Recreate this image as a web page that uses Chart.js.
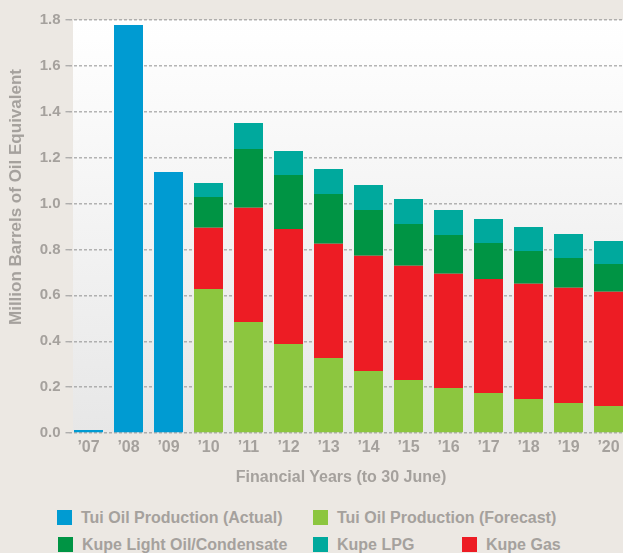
<!DOCTYPE html>
<html>
<head>
<meta charset="utf-8">
<script src="https://cdn.jsdelivr.net/npm/chart.js@4"></script>
<style>
  html, body { margin: 0; padding: 0; }
  body {
    width: 623px; height: 553px; overflow: hidden; position: relative;
    background: #ece8e3;
    font-family: "Liberation Sans", Arial, sans-serif; font-weight: bold; color: #a5a19d;
  }
  #chart { position: absolute; left: 0; top: 0; }
  .axis-title { position: absolute; white-space: nowrap; }
  #xTitle { left: 341px; top: 477px; font-size: 16px; transform: translate(-50%, -50%); }
  #yTitle { left: 16px; top: 197px; font-size: 17px; transform: translate(-50%, -50%) rotate(-90deg); }
  .legend-item { position: absolute; font-size: 16px; white-space: nowrap; line-height: 15px; }
  .legend-item .box { display: inline-block; width: 15px; height: 15px; vertical-align: top; margin-right: 9px; }
</style>
</head>
<body>
<canvas id="chart" width="640" height="480"></canvas>
<div class="axis-title" id="yTitle">Million Barrels of Oil Equivalent</div>
<div class="axis-title" id="xTitle">Financial Years (to 30 June)</div>
<div id="legend"></div>

<script>
// ─── DATI ─────────────────────────────────────────────
const years = ["’07", "’08", "’09", "’10", "’11", "’12", "’13", "’14", "’15", "’16", "’17", "’18", "’19", "’20"];
const tuiActual = [0.013, 1.778, 1.138, null, null, null, null, null, null, null, null, null, null, null];
const tuiForecast = [null, null, null, 0.628, 0.484, 0.388, 0.327, 0.270, 0.231, 0.196, 0.174, 0.148, 0.131, 0.118];
const kupeGas = [null, null, null, 0.267, 0.498, 0.501, 0.498, 0.503, 0.498, 0.498, 0.497, 0.503, 0.502, 0.498];
const kupeCondensate = [null, null, null, 0.134, 0.256, 0.236, 0.217, 0.199, 0.182, 0.169, 0.157, 0.142, 0.130, 0.121];
const kupeLpg = [null, null, null, 0.061, 0.113, 0.104, 0.109, 0.109, 0.109, 0.109, 0.105, 0.105, 0.104, 0.100];
const yTicks = [0, 0.2, 0.4, 0.6, 0.8, 1.0, 1.2, 1.4, 1.6, 1.8];

const textColor = "#a5a19d";
const font = { family: "Liberation Sans", weight: "bold" };

const series = [
  { label: "Tui Oil Production (Actual)", data: tuiActual, color: "#009bd2" },
  { label: "Tui Oil Production (Forecast)", data: tuiForecast, color: "#8cc63f" },
  { label: "Kupe Gas", data: kupeGas, color: "#ed1c24" },
  { label: "Kupe Light Oil/Condensate", data: kupeCondensate, color: "#009444" },
  { label: "Kupe LPG", data: kupeLpg, color: "#00a99d" },
];

// sfondo sfumato dell'area del grafico
const plotBackground = {
  id: "plotBackground",
  beforeDraw(chart) {
    const { ctx, chartArea: a } = chart;
    const g = ctx.createLinearGradient(0, a.top, 0, a.bottom);
    g.addColorStop(0, "#ffffff");
    g.addColorStop(1, "#e7e7e7");
    ctx.save();
    ctx.fillStyle = g;
    ctx.fillRect(a.left + 4.5, a.top, a.right - a.left, a.bottom - a.top);
    ctx.restore();
  },
};

new Chart(document.getElementById("chart").getContext("2d"), {
  type: "bar",
  data: {
    labels: years,
    datasets: series.map((s) => ({
      label: s.label,
      data: s.data,
      backgroundColor: s.color,
      borderWidth: 0,
      stack: "all",
      categoryPercentage: 1,
      barPercentage: 0.725,
    })),
  },
  options: {
    responsive: false,
    animation: false,
    devicePixelRatio: 1,
    layout: { padding: { top: 20, right: 11.5, left: 0, bottom: 0 } },
    plugins: { legend: { display: false }, tooltip: { enabled: false } },
    scales: {
      x: {
        stacked: true,
        grid: { display: false, drawTicks: false },
        border: { display: false },
        ticks: { color: textColor, font: { ...font, size: 16 }, padding: 5 },
        afterFit: (scale) => { scale.height = 47; },
      },
      y: {
        stacked: true,
        min: 0,
        max: 1.8,
        afterBuildTicks: (scale) => { scale.ticks = yTicks.map((v) => ({ value: v })); },
        grid: { color: "rgba(150,150,150,0.7)", lineWidth: 1.4, tickLength: 3 },
        border: { display: false, dash: [3, 2] },
        ticks: {
          color: textColor,
          font: { ...font, size: 15 },
          padding: 5,
          callback: (v) => Number(v).toFixed(1),
        },
        afterFit: (scale) => { scale.width = 68.5; },
      },
    },
  },
  plugins: [plotBackground],
});

// ─── LEGENDA ──────────────────────────────────────────
const legendPos = [
  { i: 0, x: 57, y: 510 },
  { i: 1, x: 313, y: 510 },
  { i: 3, x: 58, y: 537 },
  { i: 4, x: 313, y: 537 },
  { i: 2, x: 462, y: 537 },
];
const legend = document.getElementById("legend");
legendPos.forEach((p) => {
  const s = series[p.i];
  const item = document.createElement("div");
  item.className = "legend-item";
  item.style.left = p.x + "px";
  item.style.top = p.y + "px";
  item.innerHTML = `<span class="box" style="background:${s.color}"></span>${s.label}`;
  legend.appendChild(item);
});
</script>
</body>
</html>
